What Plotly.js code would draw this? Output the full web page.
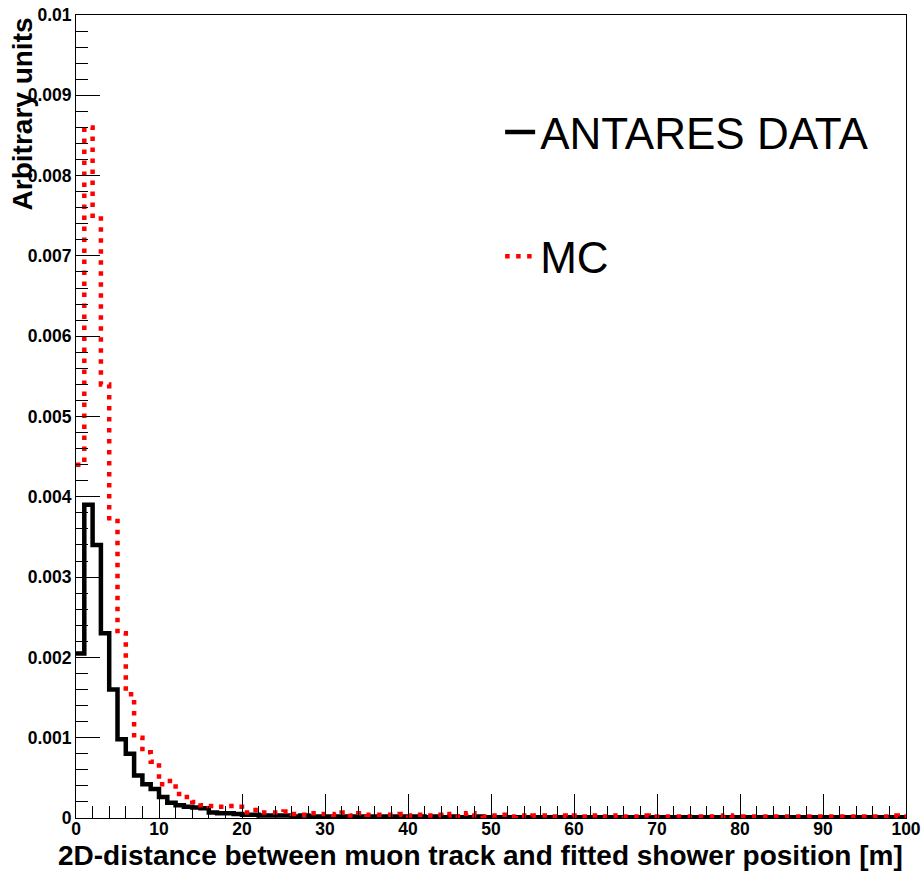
<!DOCTYPE html>
<html>
<head>
<meta charset="utf-8">
<script src="https://cdn.plot.ly/plotly-3.0.1.min.js"></script>
<style>html,body{margin:0;padding:0;background:#fff;}#chart{width:921px;height:871px;}</style>
</head>
<body>
<div id="chart"></div>
<script>
// Histogram: 100 bins of width 1 m from 0 to 100 m
const binEdges = Array.from({length: 101}, (_, i) => i);

const dataVals = [
  0.00205,0.0039,0.0034,0.0023,0.0016,0.00098,0.0008,0.00053,0.00042,0.00036,
  0.00026,0.00019,0.00016,0.00014,0.00013,0.00012,0.00007,0.00006,0.00006,0.00005,
  0.00004,0.00004,0.00003,0.00003,0.00003,0.00003,0.00002,0.00003,0.00002,0.00002,
  0.00002,0.00002,0.00002,0.00002,0.00002,0.00002,0.00002,0.00002,0.00002,0.00002,
  0.00002,0.00002,0.00001,0.00002,0.00001,0.00002,0.00001,0.00001,0.00002,0.00001,
  0.00001,0.00001,0.00001,0.00001,0.00001,0.00001,0.00001,0.00001,0.00001,0.00001,
  0.00001,0.00001,0.00001,0.00001,0.00001,0.00001,0.00001,0.00001,0.00001,0.00001,
  0.00001,0.00001,0.00001,0.00001,0.00001,0.00001,0.00001,0.00001,0.00001,0.00001,
  0.00001,0.00001,0.00001,0.00001,0.00001,0.00001,0.00001,0.00001,0.00001,0.00001,
  0.00001,0.00001,0.00001,0.00001,0.00001,0.00001,0.00001,0.00001,0.00001,0.00001
];

const mcVals = [
  0.0044,0.0086,0.0075,0.0054,0.0037,0.0023,0.00154,0.001,0.00082,0.0007,
  0.00042,0.00046,0.0003,0.00026,0.0002,0.00016,0.00015,0.00014,0.00015,0.00014,
  0.00007,0.0001,0.00007,0.00007,0.00007,0.00008,0.00005,0.00004,0.00006,0.00005,
  0.00005,0.00004,0.00007,0.00003,0.00006,0.00004,0.00004,0.00004,0.00004,0.00005,
  0.00003,0.00004,0.00003,0.00004,0.00003,0.00005,0.00002,0.00006,0.00003,0.00002,
  0.00003,0.00004,0.00002,0.00003,0.00002,0.00003,0.00003,0.00002,0.00003,0.00002,
  0.00003,0.00002,0.00003,0.00002,0.00002,0.00003,0.00002,0.00002,0.00003,0.00002,
  0.00002,0.00002,0.00002,0.00002,0.00002,0.00002,0.00002,0.00002,0.00003,0.00002,
  0.00002,0.00002,0.00002,0.00002,0.00002,0.00002,0.00002,0.00002,0.00002,0.00002,
  0.00002,0.00002,0.00002,0.00002,0.00002,0.00002,0.00002,0.00002,0.00003,0.00002
];

const seriesNames = ["ANTARES DATA", "MC"];
const yTickVals = [0,0.001,0.002,0.003,0.004,0.005,0.006,0.007,0.008,0.009,0.01];
const yTickText = ["0","0.001","0.002","0.003","0.004","0.005","0.006","0.007","0.008","0.009","0.01"];
const xTickVals = [0,10,20,30,40,50,60,70,80,90,100];
const xTickText = ["0","10","20","30","40","50","60","70","80","90","100"];
const xTitle = "2D-distance between muon track and fitted shower position [m]";
const yTitle = "Arbitrary units";

// step outline: last value repeated so the final bin reaches its right edge
const stepY = v => v.concat([v[v.length - 1]]);

const FONT = "Liberation Sans, Arial, Helvetica, sans-serif";

const traces = [
  {
    type: "scatter", mode: "lines", name: seriesNames[0], legendgroup: "a",
    x: binEdges, y: stepY(dataVals),
    line: {shape: "hv", color: "#000000", width: 4.5}
  },
  {
    type: "scatter", mode: "lines", name: seriesNames[1], legendgroup: "b",
    x: binEdges, y: stepY(mcVals),
    line: {shape: "hv", color: "#ff0000", width: 4.5, dash: "4.5px,6.5px"}
  }
];

const axisCommon = {
  showline: true, linecolor: "#000", linewidth: 1, mirror: true,
  showgrid: false, zeroline: false,
  ticks: "inside", tickcolor: "#000", tickwidth: 1, ticklen: 24,
  tickfont: {family: FONT, size: 17.5, color: "#000", weight: "bold"},
  fixedrange: true
};

const layout = {
  width: 921, height: 871,
  paper_bgcolor: "#fff", plot_bgcolor: "#fff",
  margin: {l: 76, r: 15, t: 15, b: 53},
  showlegend: true,
  legend: {
    x: 0.511, y: 0.898, xanchor: "left", yanchor: "top",
    bgcolor: "rgba(0,0,0,0)", borderwidth: 0,
    font: {family: FONT, size: 44, color: "#000"},
    traceorder: "grouped", tracegroupgap: 64
  },
  xaxis: Object.assign({}, axisCommon, {
    range: [0, 100],
    tickmode: "array", tickvals: xTickVals, ticktext: xTickText,
    ticklabelstandoff: -5,
    minor: {ticks: "inside", ticklen: 12, tickcolor: "#000", tickwidth: 1, dtick: 2, showgrid: false}
  }),
  yaxis: Object.assign({}, axisCommon, {
    range: [0, 0.01],
    tickmode: "array", tickvals: yTickVals, ticktext: yTickText,
    minor: {ticks: "inside", ticklen: 12, tickcolor: "#000", tickwidth: 1, dtick: 0.0002, showgrid: false}
  }),
  annotations: [
    {
      text: xTitle, xref: "paper", yref: "paper", x: 0.9985, y: -0.047,
      xanchor: "right", yanchor: "middle", showarrow: false,
      font: {family: FONT, size: 28, color: "#000", weight: "bold"}
    },
    {
      text: yTitle, xref: "paper", yref: "paper", x: -0.064, y: 1.0,
      xanchor: "center", yanchor: "top", showarrow: false, textangle: -90,
      font: {family: FONT, size: 28, color: "#000", weight: "bold"}
    }
  ]
};

Plotly.newPlot("chart", traces, layout, {displayModeBar: false, staticPlot: true});
</script>
</body>
</html>
